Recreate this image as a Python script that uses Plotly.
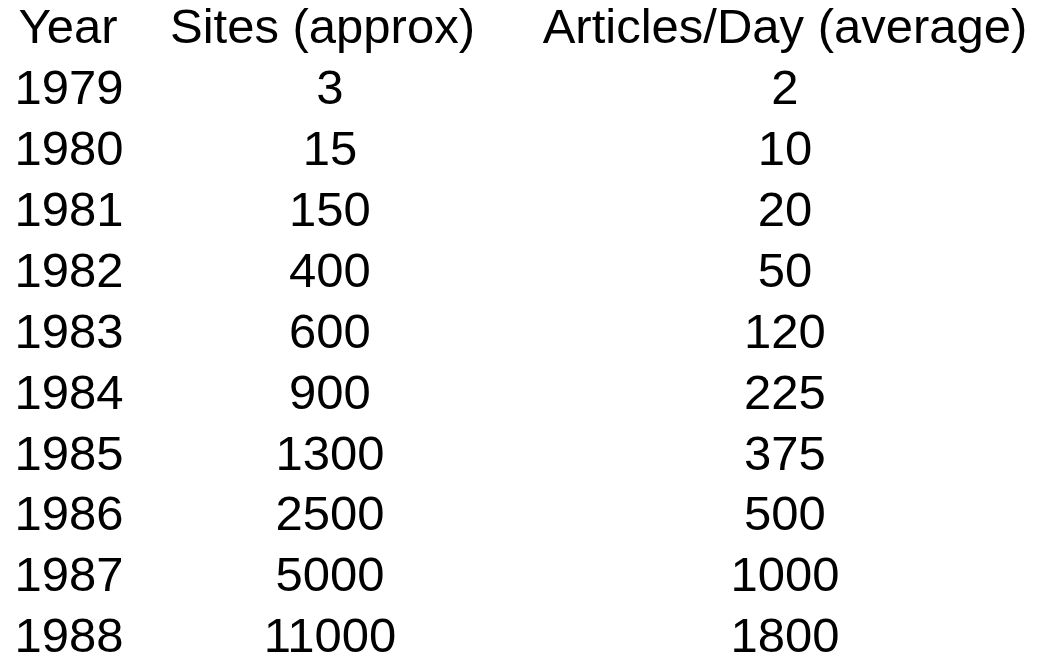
import plotly.graph_objects as go

# ---- data ----
headers = ["Year", "Sites (approx)", "Articles/Day (average)"]
years = ["1979", "1980", "1981", "1982", "1983", "1984", "1985", "1986", "1987", "1988"]
sites = [3, 15, 150, 400, 600, 900, 1300, 2500, 5000, 11000]
articles = [2, 10, 20, 50, 120, 225, 375, 500, 1000, 1800]

# ---- layout constants ----
W, H = 1038, 657
FONT = dict(family="Liberation Sans, Arial, sans-serif", size=49, color="#000000")
rows = list(range(1, len(years) + 1))

fig = go.Figure()

# header row (row 0)
fig.add_trace(go.Scatter(x=[18.5], y=[0], mode="text", text=[headers[0]],
                         textposition="middle right", textfont=FONT, hoverinfo="skip",
                         cliponaxis=False))
fig.add_trace(go.Scatter(x=[322.5, 785], y=[0, 0], mode="text", text=headers[1:],
                         textposition="middle center", textfont=FONT, hoverinfo="skip",
                         cliponaxis=False))

# body rows
fig.add_trace(go.Scatter(x=[14.5] * len(years), y=rows, mode="text", text=years,
                         textposition="middle right", textfont=FONT, hoverinfo="skip",
                         cliponaxis=False))
fig.add_trace(go.Scatter(x=[330] * len(sites), y=rows, mode="text", text=[str(v) for v in sites],
                         textposition="middle center", textfont=FONT, hoverinfo="skip",
                         cliponaxis=False))
fig.add_trace(go.Scatter(x=[785] * len(articles), y=rows, mode="text", text=[str(v) for v in articles],
                         textposition="middle center", textfont=FONT, hoverinfo="skip",
                         cliponaxis=False))

row_px = 60.9
first_center_px = 31.0
fig.update_layout(
    width=W, height=H,
    margin=dict(l=0, r=0, t=0, b=0),
    paper_bgcolor="white", plot_bgcolor="white",
    showlegend=False,
    xaxis=dict(range=[0, W], visible=False, fixedrange=True),
    yaxis=dict(range=[(H - first_center_px) / row_px, -first_center_px / row_px],
               visible=False, fixedrange=True),
)

fig.write_html("out.html", config={"displayModeBar": False},
               post_script="document.body.style.margin='0';")
